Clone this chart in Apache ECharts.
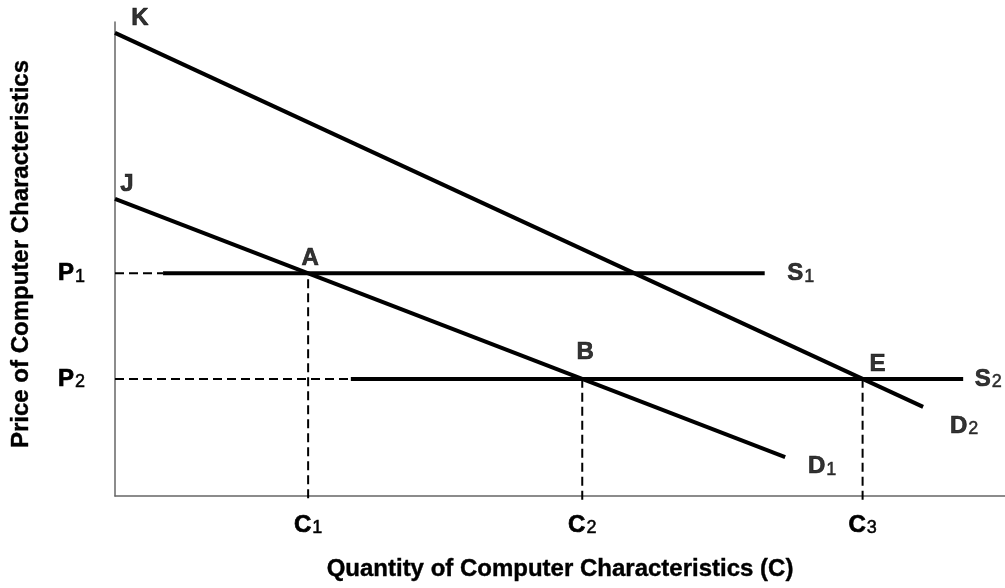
<!DOCTYPE html>
<html>
<head>
<meta charset="utf-8">
<script src="https://cdn.jsdelivr.net/npm/echarts@6/dist/echarts.min.js"></script>
<style>html,body{margin:0;padding:0;background:#fff}#c{width:1005px;height:588px}</style>
</head>
<body>
<div id="c"></div>
<script>
// ---- data (axis units 0..100) ----
const xTitle = 'Quantity of Computer Characteristics (C)';
const yTitle = 'Price of Computer Characteristics';
const priceNames = ['P1', 'P2'];
const priceValues = [47.0, 24.7];
const qtyNames = ['C1', 'C2', 'C3'];
const qtyValues = [21.7, 52.5, 84.0];
const demand1 = [[0, 62.7], [75.3, 8.2]];   // J -> D1
const demand2 = [[0, 97.7], [90.8, 18.8]];  // K -> D2
const supply1 = [[5.4, 47.0], [73.0, 47.0]];
const supply2 = [[26.5, 24.7], [95.3, 24.7]];
const pointNames = ['K', 'J', 'A', 'B', 'E', 'S1', 'S2', 'D1', 'D2'];
const pointCoords = [[0, 97.7], [0, 62.7], [21.7, 47.0], [52.5, 24.7], [84.0, 24.7],
                     [73.0, 47.0], [95.3, 24.7], [75.3, 8.2], [90.8, 18.8]];

// ---- styles ----
const FONT = '"Liberation Sans", Arial, sans-serif';
const labelOffsets = {
  K: [25, -15], J: [12, -15], A: [2, -15], B: [3, -27], E: [15, -15],
  S1: [36, 0], S2: [25, 0], D1: [37, 9], D2: [41, 19]
};
const rich = {
  b: { fontFamily: FONT, fontWeight: 'bold', fontSize: 24, color: '#000', verticalAlign: 'bottom', lineHeight: 25,
       textBorderColor: '#000', textBorderWidth: 0.7 },
  s: { fontFamily: FONT, fontWeight: 'normal', fontSize: 18, color: '#000', verticalAlign: 'bottom', lineHeight: 25,
       padding: [0, 0, 0, 1], textBorderColor: '#000', textBorderWidth: 0.5 }
};
function fmt(name) {
  const main = name.charAt(0), sub = name.slice(1);
  return sub ? '{b|' + main + '}{s|' + sub + '}' : '{b|' + main + '}';
}

const solid = { color: '#000', width: 4 };
const dashed = { color: '#000', width: 2, type: [9, 5] };
function seg(data, style) {
  return { type: 'line', data: data, symbol: 'none', lineStyle: style, silent: true, clip: false, z: style.width > 3 ? 3 : 2 };
}

const series = [
  seg(demand1, solid), seg(demand2, solid), seg(supply1, solid), seg(supply2, solid),
  seg([[0, priceValues[0]], [supply1[0][0], priceValues[0]]], dashed),
  seg([[0, priceValues[1]], [supply2[0][0], priceValues[1]]], dashed),
  seg([[qtyValues[0], -0.5], [qtyValues[0], priceValues[0]]], dashed),
  seg([[qtyValues[1], -0.8], [qtyValues[1], priceValues[1]]], dashed),
  seg([[qtyValues[2], -0.8], [qtyValues[2], priceValues[1]]], dashed),
  {
    type: 'scatter', symbolSize: 0, silent: true, clip: false, z: 5,
    data: pointNames.map((n, i) => ({
      value: pointCoords[i],
      label: { show: true, position: 'inside', offset: labelOffsets[n], formatter: fmt(n), rich: rich }
    }))
  }
];

const titleStyle = { fontFamily: FONT, fontWeight: 'bold', fontSize: 24, color: '#000', textBorderColor: '#000', textBorderWidth: 0.4 };

const chart = echarts.init(document.getElementById('c'), null, { renderer: 'canvas' });
chart.setOption({
  animation: false,
  backgroundColor: '#fff',
  grid: { left: 115, right: 0, top: 22, bottom: 92, containLabel: false },
  xAxis: {
    type: 'value', min: 0, max: 100,
    name: xTitle, nameLocation: 'middle', nameGap: 61,
    nameTextStyle: titleStyle,
    axisLine: { show: true, lineStyle: { color: '#666', width: 1.5 } },
    axisTick: { show: false }, splitLine: { show: false },
    axisLabel: {
      show: true, customValues: qtyValues, margin: 16,
      formatter: v => fmt(qtyNames[qtyValues.indexOf(v)]), rich: rich
    }
  },
  yAxis: {
    type: 'value', min: 0, max: 100,
    name: yTitle, nameLocation: 'middle', nameGap: 82,
    nameTextStyle: Object.assign({ padding: [0, 0, 0, 10] }, titleStyle),
    axisLine: { show: true, lineStyle: { color: '#666', width: 1.5 } },
    axisTick: { show: false }, splitLine: { show: false },
    axisLabel: {
      show: true, customValues: priceValues, margin: 30,
      formatter: v => fmt(priceNames[priceValues.indexOf(v)]), rich: rich
    }
  },
  series: series
});
</script>
</body>
</html>
